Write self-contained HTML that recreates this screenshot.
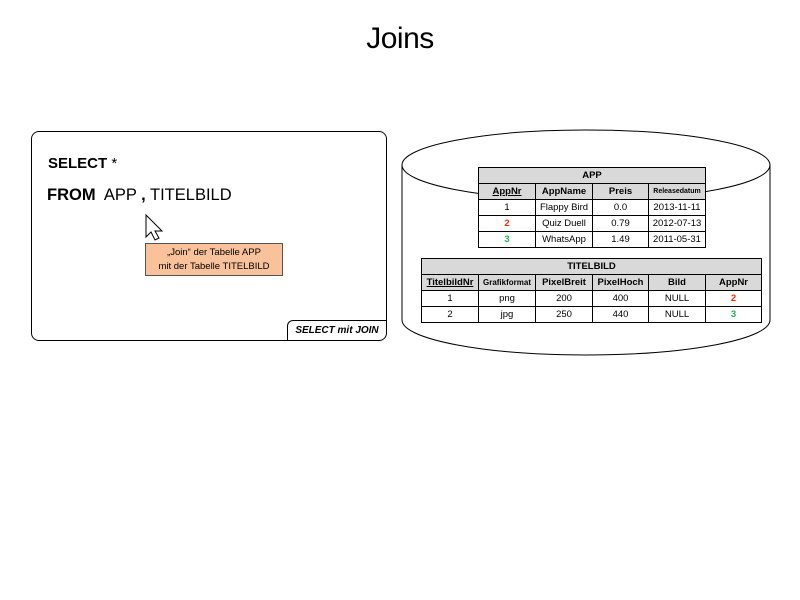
<!DOCTYPE html>
<html><head><meta charset="utf-8"><style>
body{margin:0;width:800px;height:600px;background:#fff;position:relative;overflow:hidden;font-family:"Liberation Sans",sans-serif}
.a{position:absolute}
table{border-collapse:collapse;position:absolute;font-size:9.5px;font-family:"Liberation Sans",sans-serif;background:#fff}
td{border:1px solid #000;text-align:center;padding:0;height:15px;line-height:15px;background:#fff}
.h td{background:#d9d9d9;font-weight:bold}
.r{color:#ff2a00;font-weight:bold}.g{color:#1fb050;font-weight:bold}
</style></head><body>
<div class="a" style="left:0;width:800px;top:22px;text-align:center;font-size:30px;letter-spacing:-0.5px">Joins</div>
<div class="a" style="left:31px;top:131px;width:354px;height:208px;border:1px solid #000;border-radius:8px"></div>
<div class="a" style="left:287px;top:320px;width:98px;height:19px;border-left:1px solid #000;border-top:1px solid #000;border-radius:6px 0 0 0;font-size:10px;font-weight:bold;font-style:italic;line-height:19px;text-align:center">SELECT mit JOIN</div>
<div class="a" style="left:48px;top:155px;font-size:15px;font-weight:bold">SELECT <span style="font-weight:normal">*</span></div>
<div class="a" style="left:47px;top:186px;font-size:16.5px"><b>FROM</b>&nbsp; APP <b>,</b> TITELBILD</div>
<svg class="a" style="left:140px;top:212px" width="26" height="32"><path d="M6 3 L6 25 L11 20 L15 28 L19 26 L15 19 L22 19 Z" fill="#fff" stroke="#000" stroke-width="1"/></svg>
<div class="a" style="left:145px;top:243px;width:138px;height:33px;background:#f9c29a;border:1px solid #555;font-size:9.5px;text-align:center;line-height:14px;padding-top:2px;box-sizing:border-box">„Join“ der Tabelle APP<br>mit der Tabelle TITELBILD</div>
<svg class="a" style="left:0;top:0" width="800" height="600">
<path d="M402 165 L402 320 A184 35 0 0 0 770 320 L770 165" fill="#fff" stroke="#000"/>
<ellipse cx="586" cy="165" rx="184" ry="35" fill="#fff" stroke="#000"/>
</svg>
<table style="left:478px;top:167px;width:228px">
<tr class="h"><td colspan="4">APP</td></tr>
<tr class="h"><td style="width:56px"><u>AppNr</u></td><td style="width:56px">AppName</td><td style="width:55px">Preis</td><td style="font-size:7px">Releasedatum</td></tr>
<tr><td>1</td><td>Flappy Bird</td><td>0.0</td><td>2013-11-11</td></tr>
<tr><td class="r">2</td><td>Quiz Duell</td><td>0.79</td><td>2012-07-13</td></tr>
<tr><td class="g">3</td><td>WhatsApp</td><td>1.49</td><td>2011-05-31</td></tr>
</table>
<table style="left:421px;top:258px;width:341px">
<tr class="h"><td colspan="6">TITELBILD</td></tr>
<tr class="h"><td style="width:56px"><u>TitelbildNr</u></td><td style="width:56px;font-size:8px">Grafikformat</td><td style="width:56px">PixelBreit</td><td style="width:55px">PixelHoch</td><td style="width:56px">Bild</td><td>AppNr</td></tr>
<tr><td>1</td><td>png</td><td>200</td><td>400</td><td>NULL</td><td class="r">2</td></tr>
<tr><td>2</td><td>jpg</td><td>250</td><td>440</td><td>NULL</td><td class="g">3</td></tr>
</table>
</body></html>
